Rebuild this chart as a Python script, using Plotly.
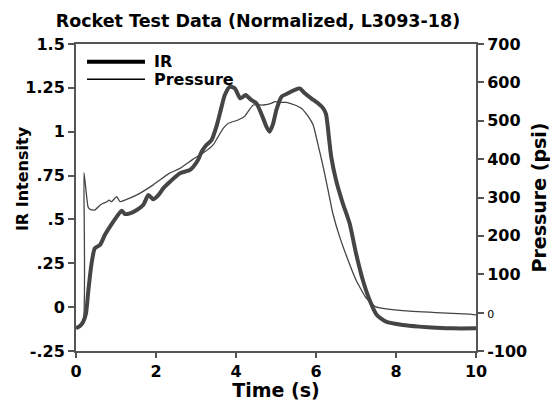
import plotly.graph_objects as go

# IR intensity (normalized) vs time
ir_time = [0.0, 0.1, 0.18, 0.25, 0.31, 0.39, 0.47, 0.6, 0.72, 0.85, 1.02, 1.14, 1.22, 1.35,
           1.52, 1.68, 1.81, 1.93, 2.06, 2.18, 2.35, 2.6, 2.85, 3.05, 3.14, 3.26, 3.39, 3.51,
           3.64, 3.72, 3.85, 3.97, 4.11, 4.24, 4.38, 4.51, 4.68, 4.76, 4.84, 4.93, 5.01, 5.14,
           5.3, 5.47, 5.59, 5.72, 5.88, 6.05, 6.18, 6.25, 6.33, 6.38, 6.5, 6.67, 6.84, 7.0,
           7.17, 7.34, 7.52, 7.75, 8.17, 8.58, 9.0, 9.42, 10.0]
ir_value = [-0.12, -0.107, -0.083, -0.035, 0.098, 0.25, 0.335, 0.354, 0.411, 0.459, 0.516, 0.55,
            0.531, 0.535, 0.554, 0.582, 0.639, 0.615, 0.639, 0.677, 0.715, 0.763, 0.782, 0.839,
            0.886, 0.924, 0.953, 1.029, 1.143, 1.209, 1.257, 1.247, 1.19, 1.209, 1.181, 1.162,
            1.076, 1.029, 1.0, 1.048, 1.124, 1.2, 1.219, 1.238, 1.247, 1.219, 1.19, 1.162, 1.133,
            1.1, 0.953, 0.858, 0.725, 0.592, 0.478, 0.307, 0.155, 0.041, -0.045, -0.083, -0.102,
            -0.111, -0.117, -0.121, -0.121]

# chamber pressure (psi) vs time
p_time = [0.0, 0.18, 0.2, 0.3, 0.35, 0.47, 0.6, 0.68, 0.77, 0.83, 0.89, 0.97, 1.02, 1.1, 1.22,
          1.51, 1.93, 2.33, 2.6, 2.93, 3.22, 3.43, 3.55, 3.68, 3.8, 4.05, 4.22, 4.43, 4.68, 4.88,
          4.97, 5.05, 5.26, 5.47, 5.64, 5.8, 5.93, 6.05, 6.18, 6.3, 6.42, 6.59, 6.8, 7.0, 7.26,
          7.5, 8.17, 9.0, 9.84, 10.0]
p_value = [-40, -24, 365, 276, 269, 267, 280, 285, 289, 293, 289, 298, 302, 289, 293,
           306, 333, 363, 376, 400, 419, 437, 458, 480, 493, 502, 512, 541, 541, 545,
           550, 548, 548, 541, 532, 512, 489, 438, 380, 320, 259, 198, 137, 85, 37,
           15, 5, 0, -4, -6]

ir_ticks = [-0.25, 0, 0.25, 0.5, 0.75, 1, 1.25, 1.5]
ir_labels = ["-.25", "0", ".25", ".5", ".75", "1", "1.25", "1.5"]
p_ticks = [-100, 0, 100, 200, 300, 400, 500, 600, 700]
p_labels = ["-100", "<span style='font-size:11px;font-weight:normal;fill:black'>0</span>",
            "100", "200", "300", "400", "500", "600", "700"]
series_names = ["IR", "Pressure"]

line_col = "#454545"
axis_col = "#555555"
fam = "DejaVu Sans, Arial, sans-serif"
font_bold = dict(family=fam, size=16, color="black", weight="bold")

fig = go.Figure()

fig.add_trace(go.Scatter(x=ir_time, y=ir_value, mode='lines', name=series_names[0],
                         line=dict(color=line_col, width=4, shape='spline', smoothing=0.6)))
fig.add_trace(go.Scatter(x=p_time, y=p_value, mode='lines', name=series_names[1], yaxis='y2',
                         line=dict(color=line_col, width=1.3, shape='spline', smoothing=0.4)))

# hand made legend (tight, like the original)
legend_rows = [(0.942, 4), (0.885, 1.4)]
for name, (yy, w) in zip(series_names, legend_rows):
    fig.add_shape(type='line', xref='paper', yref='paper', x0=0.0275, x1=0.1725, y0=yy, y1=yy,
                  line=dict(color='black', width=w))
    fig.add_annotation(xref='paper', yref='paper', x=0.19, y=yy, text=name, showarrow=False,
                       xanchor='left', yanchor='middle', font=font_bold)

# left axis title as an annotation so it stays bold
fig.add_annotation(xref='paper', yref='paper', x=-0.135, y=0.56, text="IR Intensity",
                   textangle=-90, showarrow=False, xanchor='center', yanchor='middle',
                   font=font_bold)

axis_common = dict(ticks='outside', tickwidth=1.5, tickcolor=axis_col, showline=True,
                   linecolor=axis_col, linewidth=2, showgrid=False, zeroline=False,
                   automargin=False, tickfont=font_bold)

fig.update_layout(
    width=550, height=401,
    margin=dict(l=76, r=74, t=44, b=50),
    plot_bgcolor='white',
    paper_bgcolor='white',
    font=font_bold,
    title=dict(text="Rocket Test Data (Normalized, L3093-18)", x=0.469, xanchor='center',
               y=0.948, yanchor='middle', font=dict(family=fam, size=17.5, weight="bold", color="black")),
    showlegend=False,
    xaxis=dict(range=[0, 10], tickvals=[0, 2, 4, 6, 8, 10], ticklen=5, mirror=True,
               title=dict(text="Time (s)", standoff=3), **axis_common),
    yaxis=dict(range=[-0.25, 1.5], tickvals=ir_ticks, ticktext=ir_labels, ticklen=6,
               **axis_common),
    yaxis2=dict(range=[-100, 700], tickvals=p_ticks, ticktext=p_labels, ticklen=6,
                overlaying='y', side='right',
                title=dict(text="Pressure (psi)", standoff=6), **axis_common),
)

# page has a default 8px body margin, drop it so the figure sits at the corner
fig.write_html("out.html", post_script="document.body.style.margin='0';",
               config={'displayModeBar': False})
